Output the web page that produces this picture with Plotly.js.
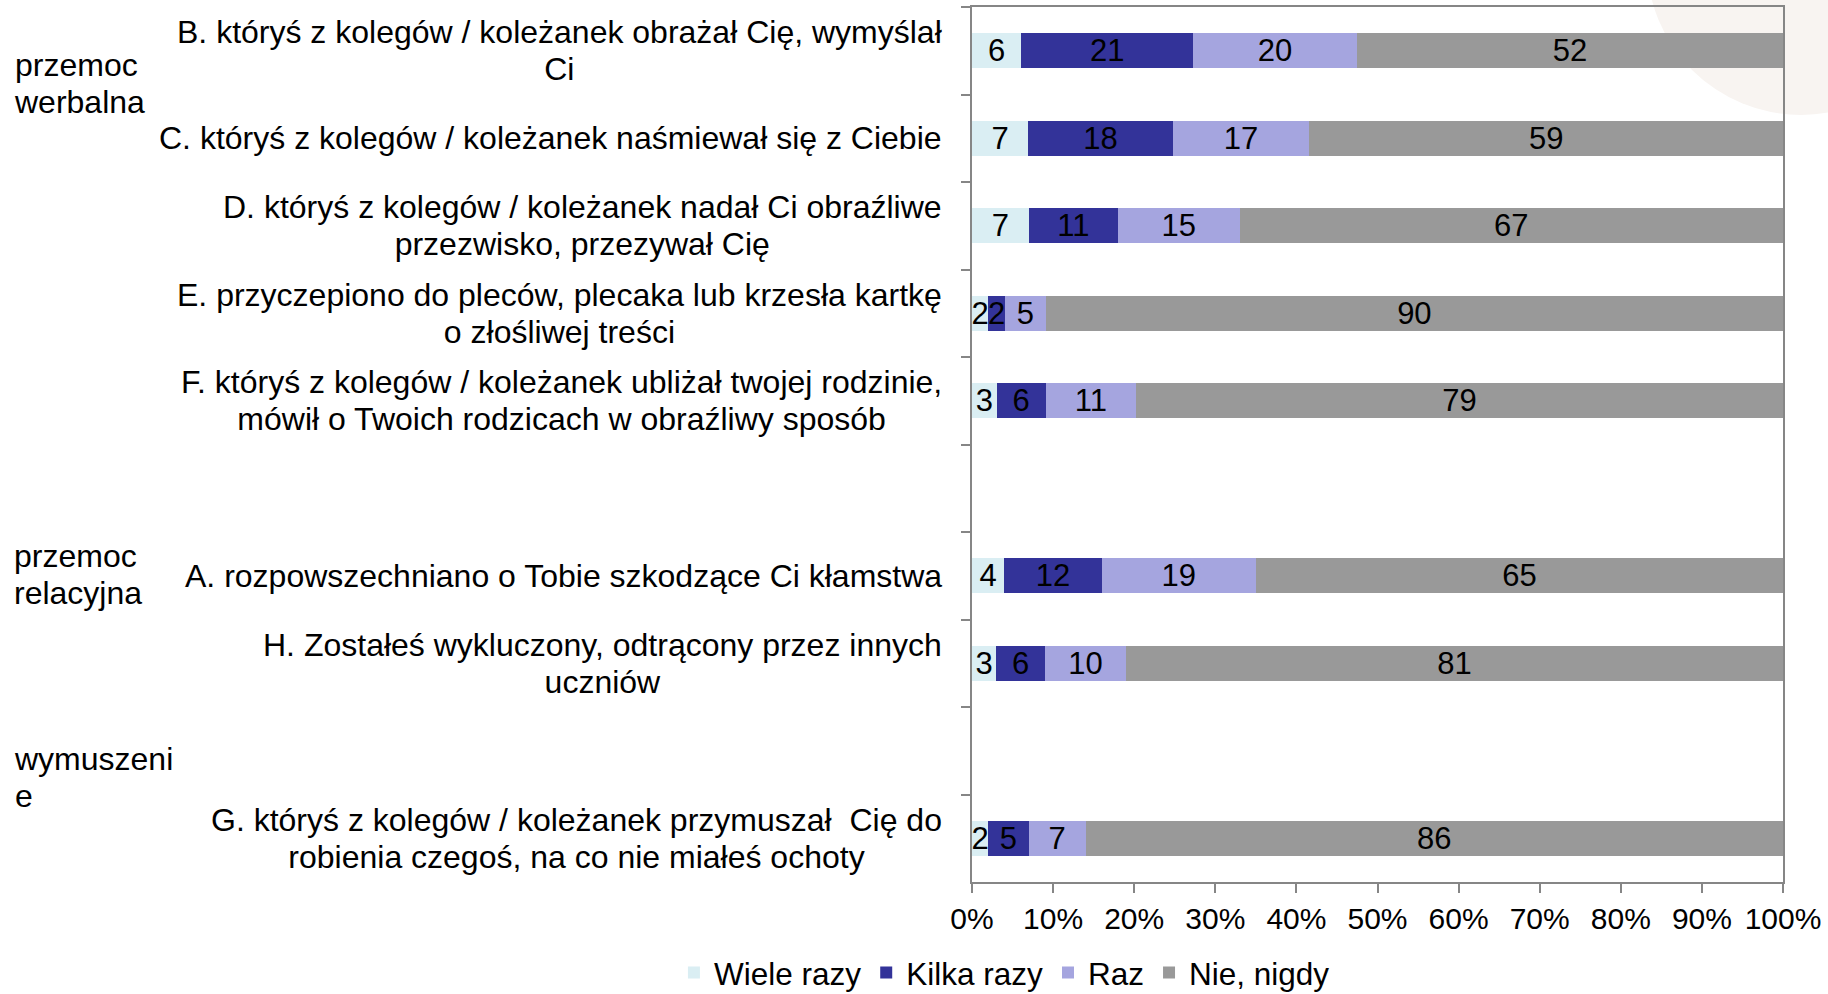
<!DOCTYPE html>
<html>
<head>
<meta charset="utf-8">
<script src="https://cdn.plot.ly/plotly-3.0.1.min.js"></script>
<style>
html,body{margin:0;padding:0;background:#ffffff;}
#chart{width:1828px;height:994px;}
</style>
</head>
<body>
<div id="chart"></div>
<script>
// ---- data ----
const categories = ["B", "C", "D", "E", "F", "gap1", "A", "H", "gap2", "G"];
const categoryLabels = [
  "B. któryś z kolegów / koleżanek obrażał Cię, wymyślał<br>Ci",
  "C. któryś z kolegów / koleżanek naśmiewał się z Ciebie",
  "D. któryś z kolegów / koleżanek nadał Ci obraźliwe<br>przezwisko, przezywał Cię",
  "E. przyczepiono do pleców, plecaka lub krzesła kartkę<br>o złośliwej treści",
  "F. któryś z kolegów / koleżanek ubliżał twojej rodzinie,<br>mówił o Twoich rodzicach w obraźliwy sposób",
  "",
  "A. rozpowszechniano o Tobie szkodzące Ci kłamstwa",
  "H. Zostałeś wykluczony, odtrącony przez innych<br>uczniów",
  "",
  "G. któryś z kolegów / koleżanek przymuszał  Cię do<br>robienia czegoś, na co nie miałeś ochoty"
];
const seriesNames = ["Wiele razy", "Kilka razy", "Raz", "Nie, nigdy"];
const wieleRazy = [6, 7, 7, 2, 3, null, 4, 3, null, 2];
const kilkaRazy = [21, 18, 11, 2, 6, null, 12, 6, null, 5];
const raz       = [20, 17, 15, 5, 11, null, 19, 10, null, 7];
const nieNigdy  = [52, 59, 67, 90, 79, null, 65, 81, null, 86];
const groupLabels = ["przemoc<br>werbalna", "przemoc<br>relacyjna", "wymuszeni<br>e"];
const xTickValues = [0, 10, 20, 30, 40, 50, 60, 70, 80, 90, 100];
const xTickText = xTickValues.map(v => v + "%");

// ---- styles ----
const seriesColors = ["#DAEEF3", "#333399", "#A5A5DF", "#999999"];
const FONT = "Liberation Sans, Arial, sans-serif";
const LABEL_FS = 32;      // glyph size of category / group labels
const LINE_FS = 28.5;     // controls line spacing (1.3 * size)
const axisColor = "#868686";

function styled(txt, size) {
  return txt.split("<br>").map(l => '<span style="font-size:' + size + 'px">' + l + '</span>').join("<br>");
}

const seriesValues = [wieleRazy, kilkaRazy, raz, nieNigdy];
const traces = seriesValues.map((vals, i) => ({
  type: "bar",
  orientation: "h",
  name: seriesNames[i],
  y: categories,
  x: vals,
  text: vals.map(v => v === null ? "" : String(v)),
  texttemplate: "%{text}",
  textposition: "inside",
  insidetextanchor: "middle",
  textangle: 0,
  constraintext: "none",
  textfont: {family: FONT, size: 31, color: "#000000"},
  marker: {color: seriesColors[i], line: {width: 0}},
  hoverinfo: "name+text"
}));

const annotations = [];
categories.forEach((c, i) => {
  if (!categoryLabels[i]) return;
  annotations.push({
    xref: "paper", yref: "y",
    x: -0.0346, y: c,
    xanchor: "right", yanchor: "middle",
    align: "center",
    text: styled(categoryLabels[i], LABEL_FS),
    showarrow: false,
    font: {family: FONT, size: LINE_FS, color: "#000000"}
  });
});
const groupY = [0.912, 0.351, 0.119];
groupLabels.forEach((g, i) => {
  annotations.push({
    xref: "paper", yref: "paper",
    x: -1.184, y: groupY[i],
    xanchor: "left", yanchor: "middle",
    align: "left",
    text: styled(g, LABEL_FS),
    showarrow: false,
    font: {family: FONT, size: LINE_FS, color: "#000000"}
  });
});

const layout = {
  width: 1828, height: 994,
  margin: {l: 972, r: 45, t: 7, b: 112, pad: 0, autoexpand: false},
  paper_bgcolor: "#ffffff",
  plot_bgcolor: "rgba(0,0,0,0)",
  barmode: "stack",
  barnorm: "percent",
  bargap: 0.6,
  font: {family: FONT, size: 30, color: "#000000"},
  showlegend: true,
  legend: {
    orientation: "h",
    x: 0.04, xanchor: "center",
    y: -0.1035, yanchor: "middle",
    font: {family: FONT, size: 31.5, color: "#000000"},
    traceorder: "normal",
    itemwidth: 30,
    bgcolor: "rgba(0,0,0,0)"
  },
  xaxis: {
    range: [0, 100],
    tickmode: "array",
    tickvals: xTickValues,
    ticktext: xTickText,
    showgrid: false,
    zeroline: false,
    showline: true,
    linecolor: axisColor,
    linewidth: 2,
    mirror: true,
    ticks: "outside",
    ticklen: 9,
    tickwidth: 2,
    tickcolor: axisColor,
    tickfont: {family: FONT, size: 30, color: "#000000"},
    fixedrange: true
  },
  yaxis: {
    type: "category",
    categoryorder: "array",
    categoryarray: categories,
    autorange: "reversed",
    showticklabels: false,
    tickson: "boundaries",
    ticks: "outside",
    ticklen: 9,
    tickwidth: 2,
    tickcolor: axisColor,
    showgrid: false,
    zeroline: false,
    showline: true,
    linecolor: axisColor,
    linewidth: 2,
    mirror: true,
    fixedrange: true
  },
  shapes: [{
    type: "circle",
    xref: "paper", yref: "paper",
    x0: (1646 - 972) / 810, x1: (1954 - 972) / 810,
    y0: (882 - 115) / 875, y1: (882 + 193) / 875,
    fillcolor: "#f8f4f1",
    line: {width: 0},
    layer: "below"
  }],
  annotations: annotations
};

Plotly.newPlot("chart", traces, layout, {displayModeBar: false, staticPlot: true});
</script>
</body>
</html>
